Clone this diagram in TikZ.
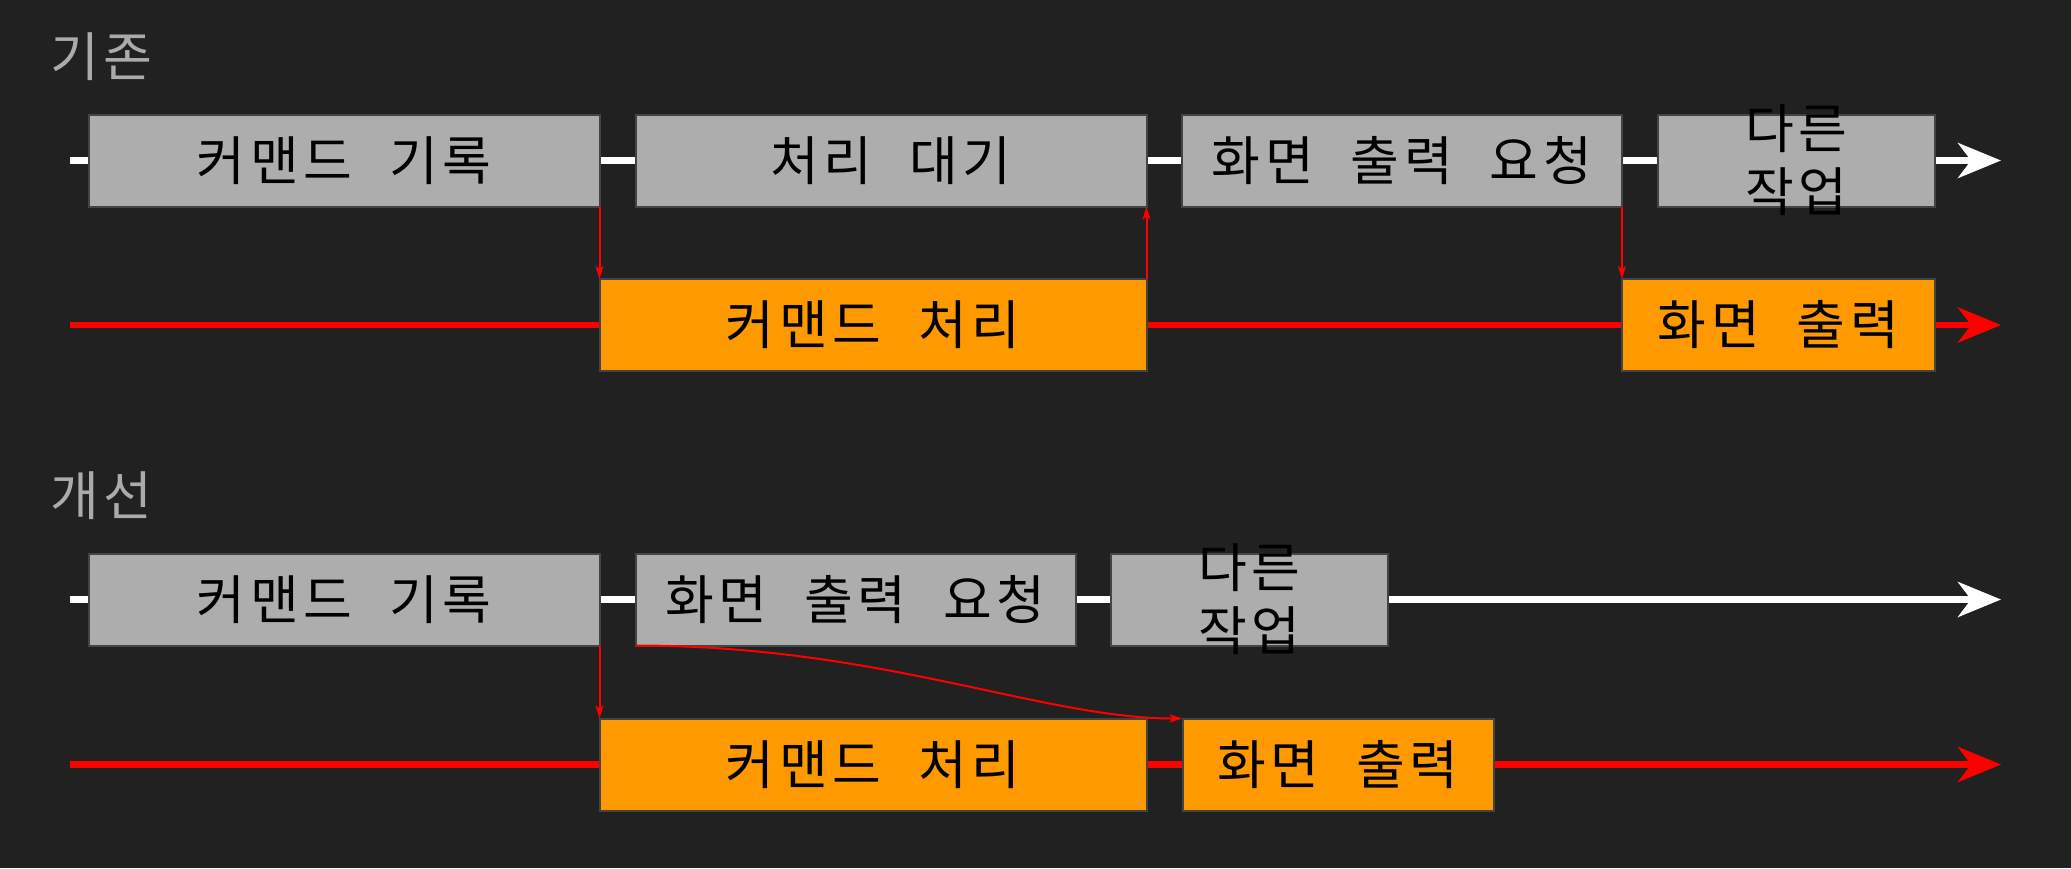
\documentclass[tikz,border=0pt]{standalone}
\usepackage{fontspec}
\setmainfont{Noto Sans CJK KR}[WordSpace=2.2, LetterSpace=9]
\usetikzlibrary{arrows.meta}
\definecolor{bg}{HTML}{212121}
\definecolor{boxgray}{HTML}{ADADAD}
\definecolor{boxorange}{HTML}{FF9900}
\definecolor{edge}{HTML}{444444}
\definecolor{titlegray}{HTML}{ABABAB}
\tikzset{
  blk/.style={draw=edge, line width=2pt, inner sep=0pt, outer sep=0pt, minimum height=92pt, anchor=west, text=black, font=\fontsize{53}{63}\selectfont},
  graybox/.style={blk, fill=boxgray},
  orbox/.style={blk, fill=boxorange},
  boxtext/.style={inner sep=0pt, text=black, font=\fontsize{53}{63}\selectfont, align=center},
  wline/.style={white, line width=6.5pt, -{Stealth[length=43pt,width=35pt,inset=13pt]}},
  rline/.style={red, line width=6.5pt, -{Stealth[length=43pt,width=35pt,inset=13pt]}},
  link/.style={red, line width=2pt, -{Stealth[length=13pt,width=8pt,inset=3pt]}},
  ttl/.style={text=titlegray, inner sep=0pt, anchor=west, font=\fontsize{53}{63}\selectfont}
}
\begin{document}
\begin{tikzpicture}[x=1pt,y=-1pt]
\fill[bg] (0,0) rectangle (2071,868);
\useasboundingbox (0,0) rectangle (2071,868);

% titles
\node[ttl] (t1) at (50,57) {기존};
\node[ttl] (t2) at (50,496) {개선};

% timelines
\coordinate (w1s) at (70,160.5);  \coordinate (w1e) at (2001,160.5);
\coordinate (r1s) at (70,325);    \coordinate (r1e) at (2001,325);
\coordinate (w2s) at (70,599.5);  \coordinate (w2e) at (2001,599.5);
\coordinate (r2s) at (70,764.5);  \coordinate (r2e) at (2001,764.5);
\draw[wline] (w1s) -- (w1e);
\draw[rline] (r1s) -- (r1e);
\draw[wline] (w2s) -- (w2e);
\draw[rline] (r2s) -- (r2e);

% top section boxes
\node[graybox, minimum width=511pt] (A) at (88.5,160.5) {커맨드 기록};
\node[graybox, minimum width=511pt] (B) at (635.5,160.5) {처리 대기};
\node[graybox, minimum width=440pt] (C) at (1182,160.5) {화면 출력 요청};
\node[graybox, minimum width=277pt] (D) at (1658,160.5) {};
\node[boxtext] (Dt) at (D.center) {다른\\작업};
\node[orbox, minimum width=547pt] (E) at (599.5,325) {커맨드 처리};
\node[orbox, minimum width=313pt] (F) at (1622,325) {화면 출력};

\draw[link] (A.south east) -- (E.north west);
\draw[link] (E.north east) -- (B.south east);
\draw[link] (C.south east) -- (F.north west);

% bottom section boxes
\node[graybox, minimum width=511pt] (A2) at (88.5,599.5) {커맨드 기록};
\node[graybox, minimum width=440pt] (C2) at (635.5,599.5) {화면 출력 요청};
\node[graybox, minimum width=277pt] (D2) at (1111,599.5) {};
\node[boxtext] (D2t) at (D2.center) {다른\\작업};
\node[orbox, minimum width=547pt] (E2) at (599.5,764.5) {커맨드 처리};
\node[orbox, minimum width=311pt] (F2) at (1182.5,764.5) {화면 출력};

\draw[link] (A2.south east) -- (E2.north west);
\draw[link] (C2.south west) .. controls +(245,0) and +(-140,0) .. (F2.north west);
\end{tikzpicture}
\end{document}
